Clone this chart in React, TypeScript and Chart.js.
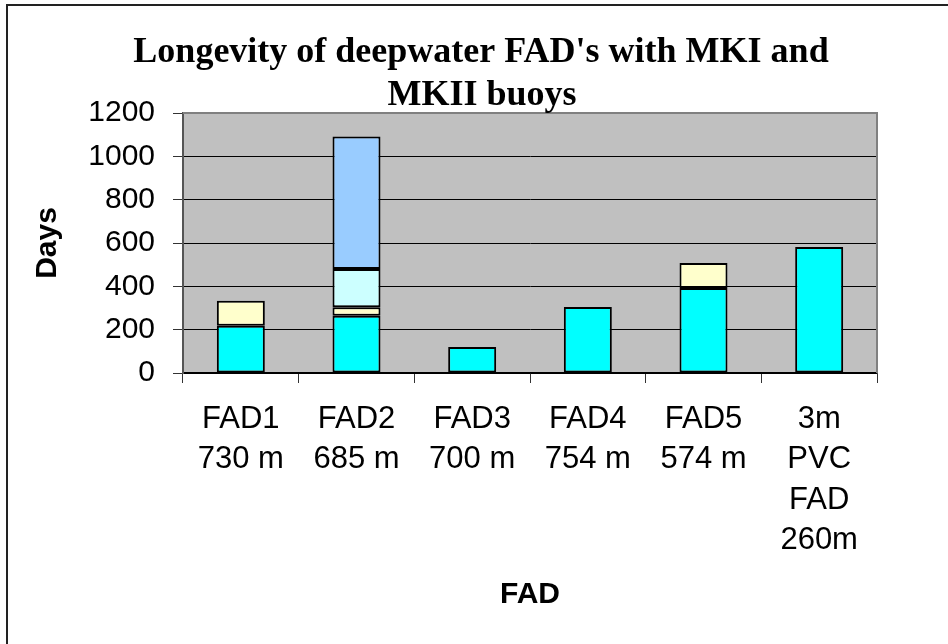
import React, { useEffect, useRef } from "react";
import { Chart, registerables } from "chart.js";

Chart.register(...registerables);

const categories: string[][] = [
  ["FAD1", "730 m"],
  ["FAD2", "685 m"],
  ["FAD3", "700 m"],
  ["FAD4", "754 m"],
  ["FAD5", "574 m"],
  ["3m", "PVC", "FAD", "260m"],
];
const seriesA: (number | null)[] = [218, 264, 120, 305, 392, 581];
const seriesB: (number | null)[] = [116, 39, null, null, 116, null];
const seriesC: (number | null)[] = [null, 177, null, null, null, null];
const seriesD: (number | null)[] = [null, 612, null, null, null, null];
const titleLines: string[] = ["Longevity of deepwater FAD's with MKI and", "MKII buoys"];
const yTitle = "Days";
const xTitle = "FAD";

const bgPlugin = {
  id: "plotBg",
  beforeDraw(chart: any) {
    const { ctx, chartArea: a } = chart;
    ctx.save();
    ctx.fillStyle = "#ffffff";
    ctx.fillRect(0, 0, chart.width, chart.height);
    ctx.fillStyle = "#C0C0C0";
    ctx.fillRect(a.left, a.top, a.right - a.left, a.bottom - a.top);
    ctx.restore();
  },
  beforeDatasetsDraw(chart: any) {
    const { ctx, chartArea: a } = chart;
    ctx.save();
    ctx.strokeStyle = "#808080";
    ctx.lineWidth = 2;
    ctx.beginPath();
    ctx.moveTo(a.left, a.top);
    ctx.lineTo(a.right, a.top);
    ctx.lineTo(a.right, a.bottom);
    ctx.stroke();
    ctx.restore();
  },
  afterDraw(chart: any) {
    const { ctx } = chart;
    ctx.save();
    ctx.fillStyle = "#000";
    ctx.font = "bold 36px 'Liberation Serif', 'Times New Roman', serif";
    ctx.textAlign = "center";
    ctx.textBaseline = "alphabetic";
    ctx.fillText(titleLines[0], 481, 62);
    ctx.fillText(titleLines[1], 482, 105);
    ctx.restore();
  },
};

export default function App() {
  const ref = useRef<HTMLCanvasElement | null>(null);
  useEffect(() => {
    if (!ref.current) return;
    const mk = (data: (number | null)[], color: string) => ({
      data,
      backgroundColor: color,
      borderColor: "#000",
      borderWidth: 2,
      borderSkipped: false,
      barPercentage: 0.415,
      categoryPercentage: 1,
    });
    const chart = new Chart(ref.current, {
      type: "bar",
      data: {
        labels: categories,
        datasets: [
          mk(seriesA, "#00FFFF"),
          mk(seriesB, "#FFFFCC"),
          mk(seriesC, "#CCFFFF"),
          mk(seriesD, "#99CCFF"),
        ],
      },
      options: {
        responsive: false,
        animation: false,
        layout: { padding: { top: 113, right: 71, left: 0, bottom: 0 } },
        plugins: {
          legend: { display: false },
          title: { display: false },
          tooltip: { enabled: false },
        },
        scales: {
          x: {
            stacked: true,
            offset: true,
            grid: {
              display: true,
              offset: true,
              drawOnChartArea: false,
              drawTicks: true,
              tickLength: 10,
              color: "#000",
              tickColor: "#333",
            },
            border: { display: true, color: "#000", width: 1.5 },
            ticks: {
              autoSkip: false,
              maxRotation: 0,
              minRotation: 0,
              color: "#000",
              padding: 16.5,
              font: { family: "'Liberation Sans', Arial, sans-serif", size: 31, lineHeight: 1.3 },
            },
            title: {
              display: true,
              text: xTitle,
              color: "#000",
              font: { family: "'Liberation Sans', Arial, sans-serif", size: 30, weight: "bold", lineHeight: 1.2 },
              padding: { top: 0, bottom: 31.5 },
            },
            afterFit(scale: any) {
              scale.height = 271;
            },
          },
          y: {
            stacked: true,
            min: 0,
            max: 1200,
            grid: {
              color: (c: any) => (c.tick && c.tick.value === 1200 ? "#808080" : "#000"),
              lineWidth: 1,
              tickLength: 10,
              tickColor: "#333",
            },
            border: { display: true, color: "#555", width: 2 },
            ticks: {
              stepSize: 200,
              color: "#000",
              padding: 18,
              callback: (v: any) => String(v),
              font: { family: "'Liberation Sans', Arial, sans-serif", size: 30 },
            },
            title: {
              display: true,
              text: yTitle,
              color: "#000",
              font: { family: "'Liberation Sans', Arial, sans-serif", size: 30, weight: "bold", lineHeight: 1.2 },
              padding: { top: 30, bottom: 0 },
            },
            afterFit(scale: any) {
              scale.width = 183;
            },
          },
        },
      },
      plugins: [bgPlugin],
    } as any);
    return () => chart.destroy();
  }, []);

  return (
    <div style={{ position: "fixed", left: 0, top: 0, width: 948, height: 644, overflow: "hidden", background: "#fff" }}>
      <canvas ref={ref} width={948} height={644} style={{ display: "block", width: 948, height: 644 }} />
      <div
        style={{
          position: "absolute",
          left: 6,
          top: 4,
          right: -10,
          bottom: -10,
          borderTop: "2px solid #222",
          borderLeft: "2px solid #222",
          pointerEvents: "none",
        }}
      />
    </div>
  );
}
